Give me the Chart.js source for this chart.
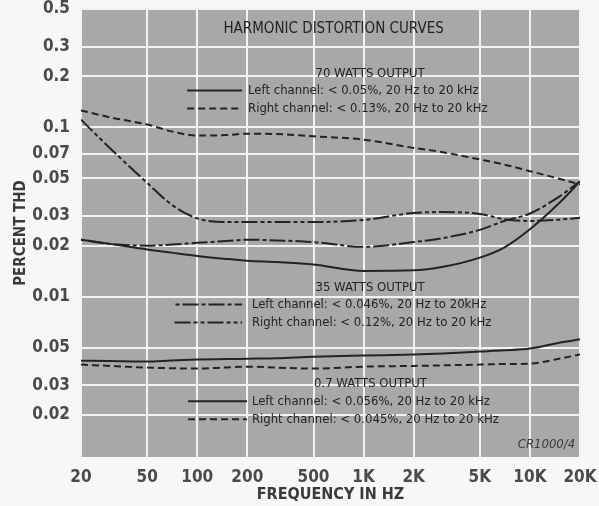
<!DOCTYPE html>
<html>
<head>
<meta charset="utf-8">
<script src="https://cdn.jsdelivr.net/npm/chart.js@4.4.1/dist/chart.umd.min.js"></script>
<style>
  html, body { margin: 0; padding: 0; background: #f7f7f5; }
  #wrap { width: 599px; height: 506px; }
</style>
</head>
<body>
<div id="wrap"><canvas id="thdChart"></canvas></div>
<script>
// frequencies (Hz) where the curves were read
const freqs = [20, 30, 50, 70, 100, 150, 200, 300, 500, 1000, 2000, 3000, 5000, 7000, 10000, 15000, 20000];

// 70 watts output (percent THD)
const left70  = [0.0217, 0.0205, 0.019, 0.0182, 0.0174, 0.0167, 0.0163, 0.016, 0.0155, 0.0142, 0.0143, 0.015, 0.017, 0.0195, 0.025, 0.0357, 0.048];
const right70 = [0.126, 0.1145, 0.104, 0.0947, 0.0894, 0.09, 0.0918, 0.0913, 0.0885, 0.0846, 0.0756, 0.0713, 0.0646, 0.0603, 0.0551, 0.0497, 0.046];

// 35 watts output
const left35  = [0.0217, 0.0205, 0.02, 0.0203, 0.0208, 0.0213, 0.0217, 0.0215, 0.021, 0.0197, 0.021, 0.0222, 0.0248, 0.028, 0.031, 0.039, 0.048];
const right35 = [0.111, 0.075, 0.047, 0.035, 0.029, 0.0276, 0.0276, 0.0276, 0.0276, 0.0284, 0.0312, 0.0316, 0.0308, 0.0287, 0.028, 0.0285, 0.0292];

// 0.7 watts output (read on the lower scale)
const left07  = [0.0419, 0.0417, 0.0414, 0.042, 0.0425, 0.0428, 0.043, 0.0433, 0.0442, 0.0449, 0.0455, 0.0462, 0.0474, 0.0482, 0.0494, 0.0535, 0.056];
const right07 = [0.0397, 0.039, 0.0381, 0.0378, 0.0376, 0.0382, 0.0386, 0.0381, 0.0376, 0.0386, 0.039, 0.0393, 0.0397, 0.04, 0.0402, 0.043, 0.0455];

const freqTicks  = [20, 50, 100, 200, 500, 1000, 2000, 5000, 10000, 20000];
const freqLabels = ['20', '50', '100', '200', '500', '1K', '2K', '5K', '10K', '20K'];
const upperTicks = [0.5, 0.3, 0.2, 0.1, 0.07, 0.05, 0.03, 0.02, 0.01];
const lowerTicks = [0.05, 0.03, 0.02];
const lowerShift = 10; // lower panel sits one decade below the upper one

const yTickValues = upperTicks.concat(lowerTicks.map(v => v / lowerShift));
const yTickLabels = upperTicks.concat(lowerTicks).map(String);

const FONT = '"Liberation Sans Narrow", "DejaVu Sans Condensed", sans-serif';
const INK = '#232323';

// dash patterns for the four line styles
const SOLID = [];
const DASHED = [7, 4];
const DASH_DOT = [4, 3, 16, 3];
const DASH_2DOT = [16, 3, 4, 3, 4, 3];

function toPoints(values, shift) {
    return freqs.map((f, i) => ({ x: f, y: values[i] / (shift || 1) }));
}

function curve(label, values, dash, shift) {
    return {
        label: label,
        data: toPoints(values, shift),
        borderColor: INK,
        borderWidth: 2,
        borderDash: dash,
        pointRadius: 0,
        cubicInterpolationMode: 'monotone',
        fill: false
    };
}

// text and key lines placed in data space (freq, plotted value)
const notes = [
    { text: 'HARMONIC DISTORTION CURVES', f: 660, v: 0.38, size: 15, align: 'center' },
    { text: '70 WATTS OUTPUT', f: 1094, v: 0.208, size: 13, align: 'center' },
    { text: 'Left channel: < 0.05%, 20 Hz to 20 kHz', f: 202, v: 0.165, size: 13, align: 'left' },
    { text: 'Right channel: < 0.13%, 20 Hz to 20 kHz', f: 202, v: 0.129, size: 13, align: 'left' },
    { text: '35 WATTS OUTPUT', f: 1094, v: 0.01128, size: 13, align: 'center' },
    { text: 'Left channel: < 0.046%, 20 Hz to 20kHz', f: 213, v: 0.00898, size: 13, align: 'left' },
    { text: 'Right channel: < 0.12%, 20 Hz to 20 kHz', f: 213, v: 0.00704, size: 13, align: 'left' },
    { text: '0.7 WATTS OUTPUT', f: 1100, v: 0.00308, size: 13, align: 'center' },
    { text: 'Left channel: < 0.056%, 20 Hz to 20 kHz', f: 213, v: 0.00241, size: 13, align: 'left' },
    { text: 'Right channel: < 0.045%, 20 Hz to 20 kHz', f: 213, v: 0.00189, size: 13, align: 'left' }
];
const keys = [
    { f1: 87, f2: 186, v: 0.165, dash: SOLID },
    { f1: 87, f2: 186, v: 0.129, dash: DASHED },
    { f1: 74, f2: 186, v: 0.00898, dash: DASH_DOT },
    { f1: 73, f2: 186, v: 0.00704, dash: DASH_2DOT },
    { f1: 88, f2: 199, v: 0.00241, dash: SOLID },
    { f1: 88, f2: 199, v: 0.00189, dash: DASHED }
];

const paperPlugin = {
    id: 'paper',
    beforeDraw(chart) {
        const { ctx, chartArea: a } = chart;
        ctx.save();
        ctx.fillStyle = '#a8a8a6';
        ctx.fillRect(a.left, a.top, a.right - a.left, a.bottom - a.top);
        ctx.restore();
    },
    afterDatasetsDraw(chart) {
        const { ctx, scales } = chart;
        const x = scales.x, y = scales.y;
        ctx.save();
        ctx.fillStyle = INK;
        ctx.textBaseline = 'middle';
        notes.forEach(n => {
            ctx.font = n.size + 'px ' + FONT;
            ctx.textAlign = n.align;
            ctx.fillText(n.text, x.getPixelForValue(n.f), y.getPixelForValue(n.v));
        });
        ctx.strokeStyle = INK;
        ctx.lineWidth = 2;
        keys.forEach(k => {
            const py = y.getPixelForValue(k.v);
            ctx.setLineDash(k.dash);
            ctx.beginPath();
            ctx.moveTo(x.getPixelForValue(k.f1), py);
            ctx.lineTo(x.getPixelForValue(k.f2), py);
            ctx.stroke();
        });
        ctx.setLineDash([]);
        ctx.font = 'italic 13px ' + FONT;
        ctx.fillStyle = '#3a3a3a';
        ctx.textAlign = 'right';
        ctx.fillText('CR1000/4', x.getPixelForValue(18700), y.getPixelForValue(0.00133));
        ctx.restore();
    }
};

const ctx = document.getElementById('thdChart').getContext('2d');
new Chart(ctx, {
    type: 'line',
    data: {
        datasets: [
            curve('70 W left', left70, SOLID),
            curve('70 W right', right70, DASHED),
            curve('35 W left', left35, DASH_DOT),
            curve('35 W right', right35, DASH_2DOT),
            curve('0.7 W left', left07, SOLID, lowerShift),
            curve('0.7 W right', right07, DASHED, lowerShift)
        ]
    },
    options: {
        responsive: true,
        maintainAspectRatio: false,
        animation: false,
        layout: { padding: { top: 9, right: 19, left: 0, bottom: 0 } },
        plugins: {
            legend: { display: false },
            tooltip: { enabled: false }
        },
        scales: {
            x: {
                type: 'logarithmic',
                min: 20,
                max: 20000,
                afterBuildTicks: axis => { axis.ticks = freqTicks.map(v => ({ value: v })); },
                afterFit: axis => {
                    axis.height = 49;
                    axis.paddingLeft = 0;
                    axis.paddingRight = 0;
                },
                ticks: {
                    autoSkip: false,
                    maxRotation: 0,
                    padding: 10,
                    color: '#4a4a4a',
                    font: { family: FONT, size: 17, weight: 'bold' },
                    callback: (value, index) => freqLabels[index]
                },
                grid: { color: '#f2f2f0', lineWidth: 2, drawTicks: false },
                border: { display: false },
                title: {
                    display: true,
                    text: 'FREQUENCY IN HZ',
                    color: '#3a3a3a',
                    font: { family: FONT, size: 16, weight: 'bold' },
                    padding: { top: 0, bottom: 2 }
                }
            },
            y: {
                type: 'logarithmic',
                min: 0.00113,
                max: 0.5,
                afterBuildTicks: axis => { axis.ticks = yTickValues.map(v => ({ value: v })); },
                afterFit: axis => {
                    axis.width = 81;
                    axis.paddingTop = 0;
                    axis.paddingBottom = 0;
                },
                ticks: {
                    autoSkip: false,
                    padding: 11,
                    color: '#4a4a4a',
                    font: { family: FONT, size: 17, weight: 'bold' },
                    callback: (value, index) => yTickLabels[index]
                },
                grid: { color: '#f2f2f0', lineWidth: 2, drawTicks: false },
                border: { display: false },
                title: {
                    display: true,
                    text: 'PERCENT THD',
                    color: '#3a3a3a',
                    font: { family: FONT, size: 15, weight: 'bold' },
                    padding: { top: 12, bottom: 0 }
                }
            }
        }
    },
    plugins: [paperPlugin]
});
</script>
</body>
</html>
